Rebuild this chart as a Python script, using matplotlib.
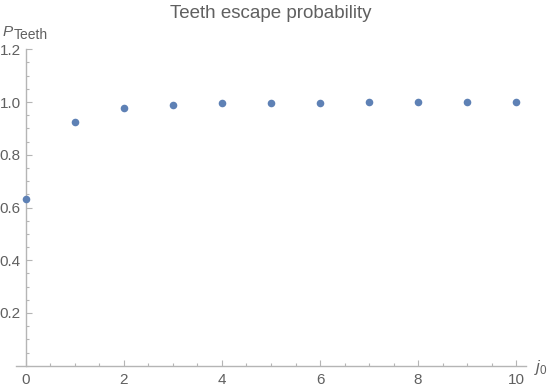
import matplotlib
matplotlib.use("Agg")
import matplotlib.pyplot as plt
from matplotlib.ticker import MultipleLocator

j0 = [0, 1, 2, 3, 4, 5, 6, 7, 8, 9, 10]
p_teeth = [0.632, 0.925, 0.978, 0.990, 0.995, 0.996, 0.997, 0.999, 0.999, 1.0, 1.0]
x_ticks = [0, 2, 4, 6, 8, 10]
y_ticks = [0.2, 0.4, 0.6, 0.8, 1.0, 1.2]

plt.rcParams['font.family'] = ['Liberation Sans', 'DejaVu Sans']
plt.rcParams['mathtext.fontset'] = 'custom'
plt.rcParams['mathtext.rm'] = 'Liberation Sans'
plt.rcParams['mathtext.it'] = 'Liberation Sans:italic'

axis_col = '#b5b5b5'
text_col = '#606060'

W, H = 554, 392
fig = plt.figure(figsize=(W/100, H/100), dpi=100)
ax = fig.add_axes([16/W, (H-365.75)/H, 510/W, 316.5/H])
ax.set_xlim(-0.2, 10.2)
ax.set_ylim(0, 1.2)

ax.scatter(j0, p_teeth, s=30, color='#5E81B5', zorder=3, clip_on=False, linewidths=0)

for s in ['top', 'right']:
    ax.spines[s].set_visible(False)
ax.spines['left'].set_position(('data', 0))
ax.spines['bottom'].set_position(('data', 0))
for s in ['left', 'bottom']:
    ax.spines[s].set_color(axis_col)
    ax.spines[s].set_linewidth(1.0)

ax.set_xticks(x_ticks)
ax.set_xticklabels([str(v) for v in x_ticks])
ax.set_yticks(y_ticks)
ax.set_yticklabels([f"{v:.1f}" for v in y_ticks])
ax.xaxis.set_minor_locator(MultipleLocator(0.5))
ax.yaxis.set_minor_locator(MultipleLocator(0.05))
ax.tick_params(which='major', direction='in', length=4.5, width=0.8, color=axis_col,
               labelcolor=text_col, labelsize=11)
ax.tick_params(which='minor', direction='in', length=2.5, width=0.8, color=axis_col)
ax.tick_params(axis='x', pad=5)
ax.tick_params(axis='y', pad=3.5)

fig.text(271/W, 1 - 17.5/H, 'Teeth escape probability', color=text_col, fontsize=13.5,
         ha='center', va='baseline')
fig.text(3/W, 1 - 35.5/H, 'P', color=text_col, fontsize=11, style='italic',
         ha='left', va='baseline')
fig.text(13.5/W, 1 - 39/H, 'Teeth', color=text_col, fontsize=10,
         ha='left', va='baseline')
fig.text(534/W, 1 - 372/H, r'$j_0$', color=text_col, fontsize=12,
         ha='left', va='baseline')

fig.savefig('out.png', dpi=100)
